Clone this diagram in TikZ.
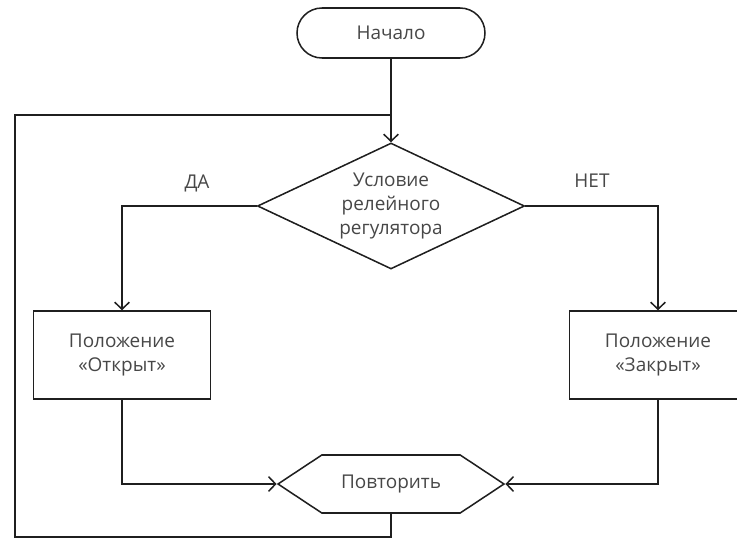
\documentclass[tikz,border=0pt]{standalone}
\usepackage{fontspec}
\setmainfont{Open Sans}
\usetikzlibrary{shapes.geometric,shapes.symbols,arrows.meta}

\tikzset{
  every node/.style={font=\fontsize{16.2}{20.5}\selectfont,text=black!72,align=center},
  flow/.style={line width=1.3pt,draw=black!88},
  arr/.style={flow,-{Straight Barb[length=2.1mm,width=4.4mm,line width=1.3pt]}},
  terminal/.style={flow,rectangle,rounded corners=0.75cm,minimum width=5.64cm,minimum height=1.5cm},
  cond/.style={flow,diamond,aspect=2.12,inner sep=0pt,minimum width=8.01cm,minimum height=3.78cm},
  block/.style={flow,rectangle,minimum width=5.31cm,minimum height=2.64cm},
  loopnode/.style={flow,signal,signal to=east and west,signal pointer angle=67,inner sep=0pt,minimum width=6.78cm,minimum height=1.74cm}
}

\begin{document}
\begin{tikzpicture}
\useasboundingbox (0,0) rectangle (22.11,-16.17);

\node[terminal] (start) at (11.73,-0.99) {Начало};
\node[cond] (check) at (11.73,-6.18) {Условие\\релейного\\регулятора};
\node[block] (open) at (3.66,-10.65) {Положение\\«Открыт»};
\node[block] (closed) at (19.74,-10.65) {Положение\\«Закрыт»};
\node[loopnode] (repeat) at (11.73,-14.52) {Повторить};

\node (yes) at (5.91,-5.49) {ДА};
\node (no) at (17.76,-5.42) {НЕТ};

\coordinate (join) at (11.73,-3.45);
\coordinate (corner) at (0.45,-16.11);

\draw[arr] (start) -- (check);
\draw[arr] (check) -| (open);
\draw[arr] (check) -| (closed);
\draw[arr] (open) |- (repeat);
\draw[arr] (closed) |- (repeat);
\draw[flow] (repeat) |- (corner) |- (join);
\end{tikzpicture}
\end{document}
